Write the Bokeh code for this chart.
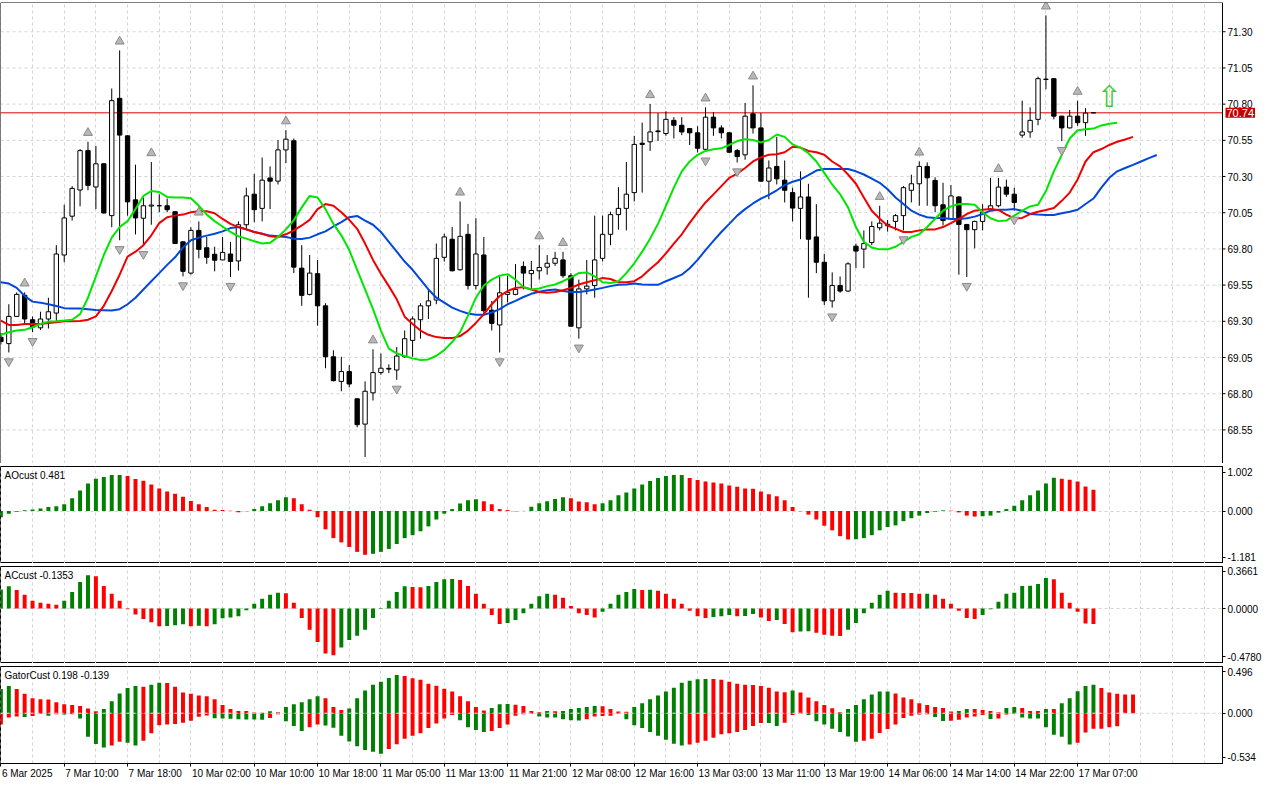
from bokeh.plotting import figure
from bokeh.models import (Range1d, FixedTicker, Span, Label, CustomJSTickFormatter,
                          LinearAxis, BoxAnnotation)
from bokeh.layouts import column
from bokeh.embed import file_html
from bokeh.resources import INLINE
from bokeh.core.properties import value

# ---------------- data (hourly bars, index 0..138) ----------------
opens = [69.19, 69.146, 69.334, 69.48, 69.311, 69.255, 69.316, 69.357, 69.758, 70.026,
         70.207, 70.479, 70.228, 70.388, 70.03, 70.84, 70.581, 70.139, 70.012, 70.096,
         70.098, 70.098, 70.057, 69.849, 69.633, 69.928, 69.808, 69.763, 69.724, 69.765,
         69.717, 69.967, 70.178, 70.08, 70.29, 70.268, 70.484, 70.547, 69.667, 69.486,
         69.629, 69.407, 69.055, 68.885, 68.953, 68.765, 68.59, 68.806, 68.946, 68.97,
         68.964, 69.055, 69.168, 69.311, 69.407, 69.447, 69.742, 69.867, 69.656, 69.901,
         69.547, 69.758, 69.377, 69.275, 69.486, 69.486, 69.679, 69.629, 69.649, 69.674,
         69.701, 69.724, 69.615, 69.255, 69.524, 69.547, 69.735, 69.901, 70.037, 70.08,
         70.189, 70.53, 70.54, 70.615, 70.597, 70.688, 70.654, 70.631, 70.602, 70.488,
         70.71, 70.636, 70.602, 70.479, 70.45, 70.733, 70.636, 70.268, 70.37, 70.275,
         70.189, 70.08, 70.159, 69.883, 69.708, 69.441, 69.547, 69.509, 69.819, 69.799,
         69.844, 69.946, 69.96, 69.99, 70.03, 70.205, 70.25, 70.37, 70.273, 70.105,
         70.007, 70.159, 69.969, 69.933, 69.99, 70.075, 70.098, 70.227, 70.178, 70.586,
         70.608, 70.695, 70.97, 70.976, 70.717, 70.636, 70.717, 70.672, 70.74]
highs = [69.22, 69.418, 69.50, 69.50, 69.334, 69.366, 69.463, 69.826, 70.105, 70.234,
         70.49, 70.54, 70.511, 70.393, 70.908, 71.171, 70.586, 70.382, 70.155, 70.40,
         70.178, 70.148, 70.059, 69.853, 69.95, 69.99, 69.883, 69.815, 69.883, 69.849,
         69.99, 70.223, 70.318, 70.431, 70.37, 70.552, 70.62, 70.563, 69.826, 69.758,
         69.724, 69.425, 69.10, 69.055, 68.998, 68.768, 68.885, 69.107, 69.078, 69.003,
         69.123, 69.237, 69.334, 69.425, 69.52, 69.837, 69.905, 69.951, 70.128, 69.973,
         70.012, 69.883, 69.44, 69.61, 69.615, 69.695, 69.713, 69.717, 69.826, 69.758,
         69.78, 69.78, 69.633, 69.588, 69.724, 70.03, 70.03, 70.057, 70.227, 70.40,
         70.581, 70.672, 70.801, 70.738, 70.751, 70.71, 70.71, 70.636, 70.647, 70.778,
         70.744, 70.654, 70.606, 70.49, 70.808, 70.93, 70.738, 70.411, 70.574, 70.411,
         70.223, 70.336, 70.25, 70.109, 69.765, 69.638, 69.61, 69.708, 69.837, 69.928,
         69.99, 70.098, 70.0, 70.041, 70.234, 70.313, 70.404, 70.398, 70.295, 70.257,
         70.241, 70.163, 69.973, 69.995, 70.109, 70.291, 70.291, 70.279, 70.223, 70.824,
         70.778, 70.99, 71.413, 70.98, 70.72, 70.76, 70.824, 70.772, 70.74]
lows = [69.14, 69.085, 69.33, 69.28, 69.225, 69.24, 69.25, 69.29, 69.708, 69.996,
        70.094, 70.205, 70.075, 70.046, 69.95, 69.86, 70.03, 69.90, 69.826, 69.967,
        70.053, 70.053, 69.835, 69.61, 69.622, 69.735, 69.697, 69.645, 69.722, 69.606,
        69.65, 69.928, 69.985, 69.99, 70.075, 70.245, 70.393, 69.633, 69.407, 69.479,
        69.27, 68.976, 68.885, 68.817, 68.844, 68.568, 68.363, 68.753, 68.93, 68.942,
        68.896, 69.048, 69.055, 69.18, 69.316, 69.418, 69.713, 69.645, 69.651, 69.52,
        69.52, 69.339, 69.237, 69.085, 69.43, 69.48, 69.52, 69.52, 69.588, 69.622,
        69.683, 69.60, 69.264, 69.18, 69.486, 69.463, 69.713, 69.826, 69.933, 69.928,
        70.128, 70.189, 70.477, 70.545, 70.581, 70.563, 70.586, 70.518, 70.466, 70.472,
        70.581, 70.563, 70.461, 70.397, 70.416, 70.597, 70.264, 70.143, 70.245, 70.121,
        69.99, 69.867, 69.463, 69.633, 69.413, 69.395, 69.497, 69.504, 69.667, 69.667,
        69.826, 69.928, 69.92, 69.928, 69.928, 70.121, 70.098, 70.098, 70.053, 69.962,
        70.0, 69.622, 69.606, 69.804, 69.928, 70.064, 70.087, 70.159, 70.064, 70.568,
        70.568, 70.654, 70.903, 70.695, 70.545, 70.632, 70.65, 70.581, 70.74]
closes = [69.16, 69.334, 69.486, 69.316, 69.26, 69.316, 69.366, 69.765, 70.014, 70.218,
          70.479, 70.239, 70.388, 70.048, 70.824, 70.586, 70.125, 70.014, 70.098, 70.103,
          70.098, 70.071, 69.837, 69.645, 69.928, 69.797, 69.742, 69.722, 69.776, 69.713,
          69.967, 70.166, 70.071, 70.275, 70.268, 70.484, 70.558, 69.674, 69.479, 69.633,
          69.407, 69.055, 68.89, 68.953, 68.867, 68.586, 68.817, 68.946, 68.976, 68.975,
          69.06, 69.18, 69.316, 69.407, 69.441, 69.735, 69.883, 69.649, 69.887, 69.547,
          69.765, 69.373, 69.286, 69.497, 69.50, 69.52, 69.633, 69.651, 69.672, 69.701,
          69.735, 69.615, 69.266, 69.524, 69.543, 69.724, 69.901, 70.037, 70.08, 70.178,
          70.522, 70.522, 70.608, 70.61, 70.695, 70.654, 70.608, 70.602, 70.495, 70.71,
          70.636, 70.602, 70.468, 70.438, 70.717, 70.636, 70.268, 70.359, 70.284, 70.205,
          70.082, 70.159, 69.867, 69.708, 69.441, 69.547, 69.509, 69.697, 69.785, 69.837,
          69.955, 69.978, 69.97, 70.03, 70.223, 70.25, 70.37, 70.291, 70.098, 69.996,
          70.166, 69.969, 69.933, 69.99, 70.053, 70.098, 70.227, 70.178, 70.121, 70.608,
          70.688, 70.976, 70.973, 70.717, 70.636, 70.717, 70.672, 70.738, 70.74]

# Alligator lines (as displayed, already shifted forward)
jaw = [69.570, 69.561, 69.531, 69.475, 69.436, 69.429, 69.418, 69.406, 69.391, 69.388,
       69.388, 69.384, 69.379, 69.377, 69.375, 69.384, 69.418, 69.463, 69.520, 69.577,
       69.633, 69.690, 69.742, 69.810, 69.860, 69.878, 69.892, 69.905, 69.921, 69.944,
       69.951, 69.935, 69.917, 69.905, 69.892, 69.887, 69.883, 69.871, 69.869, 69.878,
       69.901, 69.921, 69.955, 69.985, 70.019, 70.028, 69.996, 69.967, 69.917, 69.849,
       69.781, 69.713, 69.656, 69.588, 69.520, 69.463, 69.429, 69.395, 69.372, 69.354,
       69.345, 69.345, 69.361, 69.384, 69.418, 69.441, 69.468, 69.490, 69.504, 69.515,
       69.520, 69.509, 69.502, 69.502, 69.509, 69.520, 69.531, 69.543, 69.552, 69.554,
       69.561, 69.554, 69.552, 69.552, 69.577, 69.599, 69.622, 69.667, 69.724, 69.792,
       69.855, 69.917, 69.973, 70.030, 70.075, 70.114, 70.148, 70.173, 70.205, 70.241,
       70.264, 70.280, 70.309, 70.341, 70.352, 70.352, 70.352, 70.352, 70.336, 70.314,
       70.286, 70.257, 70.212, 70.155, 70.110, 70.064, 70.037, 70.019, 70.014, 70.014,
       70.007, 70.007, 70.012, 70.023, 70.041, 70.064, 70.071, 70.071, 70.075, 70.064,
       70.041, 70.037, 70.035, 70.035, 70.046, 70.057, 70.071, 70.110, 70.148, 70.223,
       70.291, 70.336, 70.359, 70.381, 70.404, 70.427, 70.449]
teeth = [69.305, 69.275, 69.275, 69.282, 69.282, 69.282, 69.289, 69.293, 69.300, 69.300,
         69.302, 69.311, 69.334, 69.407, 69.509, 69.622, 69.747, 69.781, 69.826, 69.894,
         69.978, 70.019, 70.030, 70.037, 70.053, 70.060, 70.060, 70.046, 70.007, 69.973,
         69.951, 69.935, 69.917, 69.905, 69.887, 69.883, 69.901, 69.928, 69.962, 70.001,
         70.075, 70.110, 70.098, 70.053, 70.001, 69.939, 69.837, 69.724, 69.629, 69.543,
         69.452, 69.332, 69.282, 69.236, 69.207, 69.191, 69.184, 69.184, 69.198, 69.236,
         69.289, 69.350, 69.418, 69.475, 69.509, 69.531, 69.536, 69.520, 69.502, 69.497,
         69.502, 69.515, 69.531, 69.554, 69.570, 69.583, 69.599, 69.592, 69.570, 69.570,
         69.577, 69.611, 69.661, 69.708, 69.769, 69.837, 69.901, 69.980, 70.053, 70.121,
         70.177, 70.234, 70.291, 70.320, 70.359, 70.404, 70.432, 70.450, 70.454, 70.468,
         70.506, 70.500, 70.477, 70.468, 70.450, 70.404, 70.370, 70.314, 70.250, 70.155,
         70.064, 70.008, 69.962, 69.940, 69.917, 69.917, 69.928, 69.935, 69.935, 69.951,
         69.978, 70.007, 70.041, 70.064, 70.071, 70.075, 70.069, 70.037, 70.012, 70.014,
         70.041, 70.057, 70.069, 70.082, 70.132, 70.189, 70.280, 70.404, 70.468, 70.490,
         70.518, 70.540, 70.556, 70.574]
lips = [69.207, 69.225, 69.236, 69.241, 69.259, 69.282, 69.298, 69.300, 69.305, 69.311,
        69.350, 69.463, 69.611, 69.758, 69.878, 69.951, 69.992, 70.075, 70.166, 70.200,
        70.193, 70.159, 70.155, 70.155, 70.150, 70.098, 70.037, 69.992, 69.955, 69.917,
        69.887, 69.871, 69.853, 69.837, 69.842, 69.883, 69.935, 69.999, 70.087, 70.166,
        70.155, 70.075, 69.973, 69.894, 69.792, 69.656, 69.520, 69.384, 69.236, 69.112,
        69.078, 69.060, 69.044, 69.033, 69.037, 69.062, 69.101, 69.157, 69.225, 69.339,
        69.463, 69.547, 69.588, 69.615, 69.626, 69.588, 69.536, 69.520, 69.527, 69.543,
        69.554, 69.577, 69.604, 69.633, 69.638, 69.611, 69.570, 69.565, 69.577, 69.633,
        69.701, 69.781, 69.871, 69.973, 70.098, 70.223, 70.336, 70.404, 70.450, 70.477,
        70.488, 70.495, 70.518, 70.545, 70.558, 70.552, 70.536, 70.552, 70.590, 70.574,
        70.522, 70.500, 70.461, 70.404, 70.325, 70.245, 70.177, 70.087, 69.951, 69.849,
        69.810, 69.797, 69.797, 69.815, 69.849, 69.883, 69.901, 69.951, 70.008, 70.064,
        70.094, 70.110, 70.110, 70.105, 70.053, 70.012, 69.992, 69.996, 70.030, 70.064,
        70.094, 70.105, 70.200, 70.336, 70.450, 70.563, 70.620, 70.626, 70.631, 70.653,
        70.665, 70.672]

fractal_up = [3, 11, 15, 19, 25, 36, 47, 58, 68, 71, 82, 89, 95, 111, 116, 126, 132, 136]
fractal_dn = [1, 4, 15, 18, 23, 29, 46, 50, 63, 73, 89, 93, 105, 114, 122, 128, 134]
signal_idx = [140]
signal_price = [70.85]
last_price = 70.74

ao = [-0.14, -0.06, -0.015, 0.015, 0.037, 0.059, 0.088, 0.11, 0.154, 0.287,
      0.463, 0.618, 0.728, 0.765, 0.809, 0.812, 0.787, 0.721, 0.684, 0.596,
      0.507, 0.441, 0.39, 0.324, 0.228, 0.154, 0.088, 0.029, 0.022, 0.007,
      -0.03, -0.007, 0.044, 0.11, 0.176, 0.243, 0.309, 0.287, 0.154, 0.029,
      -0.14, -0.412, -0.61, -0.706, -0.809, -0.919, -0.985, -0.963, -0.919, -0.853,
      -0.743, -0.61, -0.544, -0.456, -0.346, -0.191, -0.059, 0.044, 0.169, 0.243,
      0.265, 0.221, 0.154, 0.044, 0.022, -0.007, 0.003, 0.096, 0.176, 0.221,
      0.272, 0.309, 0.287, 0.213, 0.199, 0.154, 0.176, 0.243, 0.353, 0.419,
      0.507, 0.596, 0.676, 0.743, 0.787, 0.809, 0.812, 0.743, 0.699, 0.662,
      0.64, 0.618, 0.574, 0.544, 0.507, 0.5, 0.441, 0.375, 0.331, 0.243,
      0.088, -0.007, -0.081, -0.191, -0.331, -0.434, -0.566, -0.64, -0.635, -0.61,
      -0.544, -0.434, -0.36, -0.324, -0.228, -0.162, -0.103, -0.044, -0.015, 0.015,
      0.008, -0.03, -0.103, -0.125, -0.118, -0.103, -0.037, 0.044, 0.118, 0.243,
      0.353, 0.463, 0.618, 0.75, 0.728, 0.706, 0.662, 0.551, 0.481]
ac = [0.165, 0.194, 0.162, 0.12, 0.068, 0.051, 0.043, 0.034, 0.068, 0.145,
      0.231, 0.291, 0.282, 0.197, 0.128, 0.068, -0.006, -0.051, -0.091, -0.12,
      -0.154, -0.151, -0.145, -0.137, -0.154, -0.150, -0.154, -0.137, -0.085, -0.077,
      -0.066, -0.014, 0.043, 0.085, 0.12, 0.137, 0.134, 0.051, -0.083, -0.185,
      -0.29, -0.39, -0.407, -0.339, -0.274, -0.236, -0.185, -0.083, 0.006, 0.068,
      0.145, 0.194, 0.188, 0.186, 0.197, 0.231, 0.256, 0.258, 0.248, 0.197,
      0.128, 0.043, -0.057, -0.134, -0.125, -0.1, -0.04, 0.043, 0.108, 0.128,
      0.12, 0.094, 0.023, -0.04, -0.057, -0.077, -0.028, 0.043, 0.12, 0.145,
      0.171, 0.162, 0.163, 0.154, 0.128, 0.085, 0.043, -0.02, -0.066, -0.083,
      -0.074, -0.066, -0.057, -0.066, -0.064, -0.048, -0.077, -0.108, -0.1, -0.134,
      -0.205, -0.2, -0.198, -0.21, -0.228, -0.237, -0.238, -0.185, -0.125, -0.04,
      0.051, 0.12, 0.154, 0.137, 0.136, 0.135, 0.128, 0.129, 0.12, 0.085,
      0.043, -0.02, -0.083, -0.091, -0.057, -0.006, 0.06, 0.128, 0.137, 0.197,
      0.198, 0.214, 0.265, 0.256, 0.137, 0.051, -0.028, -0.13, -0.1353]
gator_up = [0.258, 0.289, 0.258, 0.206, 0.158, 0.148, 0.146, 0.117, 0.096, 0.086,
            0.076, 0.05, 0.02, 0.045, 0.127, 0.21, 0.268, 0.289, 0.282, 0.302,
            0.323, 0.322, 0.282, 0.22, 0.206, 0.189, 0.179, 0.148, 0.086, 0.045,
            0.024, 0.023, 0.008, 0.004, 0.02, 0.01, 0.065, 0.096, 0.117, 0.148,
            0.179, 0.158, 0.065, 0.034, 0.05, 0.158, 0.24, 0.302, 0.333, 0.375,
            0.405, 0.395, 0.37, 0.354, 0.313, 0.292, 0.261, 0.23, 0.179, 0.127,
            0.065, 0.03, 0.055, 0.096, 0.098, 0.09, 0.076, 0.024, 0.01, 0.024,
            0.02, 0.024, 0.045, 0.055, 0.065, 0.076, 0.074, 0.045, 0.018, 0.016,
            0.065, 0.107, 0.148, 0.189, 0.23, 0.271, 0.323, 0.344, 0.361, 0.364,
            0.362, 0.354, 0.333, 0.313, 0.302, 0.300, 0.289, 0.271, 0.23, 0.223,
            0.24, 0.22, 0.168, 0.127, 0.086, 0.052, 0.01, 0.045, 0.086, 0.148,
            0.2, 0.23, 0.231, 0.21, 0.168, 0.148, 0.107, 0.086, 0.065, 0.055,
            0.017, 0.024, 0.045, 0.044, 0.034, 0.024, 0.01, 0.055, 0.065, 0.055,
            0.024, 0.023, 0.045, 0.044, 0.107, 0.158, 0.234, 0.289, 0.302, 0.268,
            0.22, 0.206, 0.2, 0.198]
gator_dn = [-0.12, -0.045, -0.035, -0.04, -0.03, -0.005, -0.027, -0.01, -0.015, -0.012,
            -0.055, -0.25, -0.326, -0.364, -0.344, -0.302, -0.313, -0.344, -0.292, -0.213,
            -0.127, -0.12, -0.115, -0.1, -0.08, -0.038, -0.023, -0.054, -0.055, -0.058,
            -0.064, -0.066, -0.068, -0.07, -0.05, -0.01, -0.086, -0.137, -0.189, -0.15,
            -0.12, -0.13, -0.155, -0.24, -0.30, -0.35, -0.39, -0.41, -0.43, -0.38,
            -0.33, -0.27, -0.24, -0.213, -0.158, -0.11, -0.055, -0.02, -0.076, -0.148,
            -0.179, -0.2, -0.189, -0.158, -0.12, -0.027, -0.01, -0.005, -0.034, -0.045,
            -0.046, -0.065, -0.076, -0.077, -0.065, -0.034, -0.03, -0.027, -0.007, -0.065,
            -0.127, -0.158, -0.2, -0.24, -0.282, -0.323, -0.344, -0.333, -0.313, -0.292,
            -0.261, -0.223, -0.213, -0.2, -0.179, -0.137, -0.103, -0.105, -0.137, -0.10,
            -0.02, -0.005, -0.02, -0.086, -0.12, -0.165, -0.2, -0.247, -0.302, -0.292,
            -0.271, -0.21, -0.168, -0.12, -0.052, -0.027, -0.015, -0.01, -0.041, -0.082,
            -0.081, -0.069, -0.045, -0.034, -0.02, -0.062, -0.055, -0.014, -0.007, -0.045,
            -0.055, -0.056, -0.148, -0.23, -0.251, -0.333, -0.313, -0.206, -0.165, -0.164,
            -0.148, -0.139]

price_ticks = [68.55, 68.80, 69.05, 69.30, 69.55, 69.80, 70.05, 70.30, 70.55, 70.80, 71.05, 71.30]
time_tick_idx = [0, 8, 16, 24, 32, 40, 48, 56, 64, 72, 80, 88, 96, 104, 112, 120, 128, 136]
time_tick_lbl = ["6 Mar 2025", "7 Mar 10:00", "7 Mar 18:00", "10 Mar 02:00", "10 Mar 10:00",
                 "10 Mar 18:00", "11 Mar 05:00", "11 Mar 13:00", "11 Mar 21:00", "12 Mar 08:00",
                 "12 Mar 16:00", "13 Mar 03:00", "13 Mar 11:00", "13 Mar 19:00", "14 Mar 06:00",
                 "14 Mar 14:00", "14 Mar 22:00", "17 Mar 07:00"]

# ---------------- styling ----------------
FONT = "Liberation Sans"
FS = "10px"
FW = 1222          # chart frame width (px)
AXW = 42           # price-scale strip of the main panel (px)
X0, X1 = -0.05, 154.3
PPB = FW / (X1 - X0)          # pixels per bar
XE = X1 + AXW / PPB           # main panel extends over its price scale
Y0, Y1 = 68.318, 71.502
GREEN = "#008000"
RED = "#ff0000"
GRID = "#d4d4d4"

LOOKUP_JS = """
let best = 0, bd = 1e18;
for (let k = 0; k < tv.length; k++) {
  const d = Math.abs(tv[k] - tick);
  if (d < bd) { bd = d; best = k; }
}
return labels[best];
"""


def style_common(p):
    p.background_fill_color = "white"
    p.border_fill_color = "white"
    p.xgrid.ticker = FixedTicker(ticks=list(range(0, 156, 4)))
    for g in (p.xgrid, p.ygrid):
        g.grid_line_color = GRID
        g.grid_line_dash = "3 3"
        g.grid_line_width = 1


def make_sub(h, lo, hi):
    p = figure(frame_width=FW, frame_height=h, x_range=Range1d(X0, X1), y_range=Range1d(lo, hi),
               y_axis_location="right", output_backend="svg", toolbar_location=None,
               tools="", min_border_left=0, min_border_right=0, min_border_top=3,
               min_border_bottom=0)
    style_common(p)
    p.outline_line_color = "black"
    p.outline_line_width = 1
    ya = p.yaxis[0]
    ya.axis_line_color = "black"
    ya.major_tick_out = 3
    ya.major_tick_in = 0
    ya.minor_tick_line_color = None
    ya.major_label_standoff = 2
    ya.major_label_text_font = FONT
    ya.major_label_text_font_size = FS
    ya.major_label_text_color = "black"
    return p


def hist_colors(vals, first, use_abs=False):
    out = [first]
    for k in range(1, len(vals)):
        a, b = (abs(vals[k]), abs(vals[k - 1])) if use_abs else (vals[k], vals[k - 1])
        out.append(GREEN if a > b else RED)
    return out


def set_sub_axis(p, tv, labels):
    p.yaxis[0].ticker = FixedTicker(ticks=tv)
    p.yaxis[0].formatter = CustomJSTickFormatter(args=dict(tv=tv, labels=labels), code=LOOKUP_JS)
    p.ygrid.ticker = FixedTicker(ticks=[0])


def text_width(s):
    w = {" ": 2.78, ":": 2.78, "M": 8.33, "a": 5.56, "r": 3.33}
    return sum(w.get(ch, 5.56) for ch in s)


# ---------------- main price panel (its frame also covers the price scale strip) ----------------
n = len(opens)
idx = list(range(n))
main = figure(frame_width=FW + AXW, frame_height=461, x_range=Range1d(X0, XE),
              y_range=Range1d(Y0, Y1), output_backend="svg", toolbar_location=None, tools="",
              min_border_left=0, min_border_right=0, min_border_top=2, min_border_bottom=0)
style_common(main)
main.xaxis.visible = False
main.yaxis.visible = False
main.ygrid.visible = False
main.outline_line_color = None

# horizontal grid only over the chart area
main.segment(x0=[X0] * len(price_ticks), x1=[X1] * len(price_ticks), y0=price_ticks,
             y1=price_ticks, line_color=GRID, line_dash="3 3", line_width=1)
# current price line
main.segment(x0=[X0], x1=[X1], y0=[last_price], y1=[last_price], line_color="#e00000", line_width=1)

main.segment(x0=idx, y0=lows, x1=idx, y1=highs, line_color="black", line_width=1)
body_top = [max(o, c) for o, c in zip(opens, closes)]
body_bot = [min(o, c) for o, c in zip(opens, closes)]
body_fill = ["white" if c >= o else "black" for o, c in zip(opens, closes)]
main.vbar(x=idx, width=0.55, top=body_top, bottom=body_bot, fill_color=body_fill,
          line_color="black", line_width=1)

main.line(list(range(len(jaw))), jaw, line_color="#0047dc", line_width=2)
main.line(list(range(len(teeth))), teeth, line_color="#f00000", line_width=2)
main.line(list(range(len(lips))), lips, line_color="#00e600", line_width=2)

main.scatter(fractal_up, [highs[i] + 0.062 for i in fractal_up], marker="triangle", size=9,
             fill_color="#b8b8b8", line_color="#8a8a8a", line_width=1)
main.scatter(fractal_dn, [lows[i] - 0.062 for i in fractal_dn], marker="inverted_triangle", size=9,
             fill_color="#b8b8b8", line_color="#8a8a8a", line_width=1)

main.text(x=signal_idx, y=signal_price, text=["\u21e7"], text_color="#3ccc3c",
          text_font=value("DejaVu Sans"), text_font_size="30px", text_align="center",
          text_baseline="middle")

# chart border (only round the chart area, not the price strip)
main.add_layout(BoxAnnotation(left=X0, right=X1, bottom=Y0, top=Y1, fill_color=None,
                              line_color="black", line_alpha=1.0, line_width=1))

# price scale: tick marks and labels
nt = len(price_ticks)
main.segment(x0=[X1] * nt, x1=[X1 + 3 / PPB] * nt, y0=price_ticks, y1=price_ticks,
             line_color="black", line_width=1)
main.text(x=[X1 + 5 / PPB] * nt, y=price_ticks, text=["%.2f" % v for v in price_ticks],
          text_font=value(FONT), text_font_size=FS, text_color="black",
          text_align="left", text_baseline="middle")

lbl_kw = dict(x=X1 + 3 / PPB, y=last_price, text="%.2f" % last_price, text_color="white",
              background_fill_color="#c80000", text_font=FONT, text_font_size="11px",
              text_align="left", text_baseline="middle")
try:
    plbl = Label(padding=1, **lbl_kw)
except Exception:
    plbl = Label(**lbl_kw)
main.add_layout(plbl)

# ---------------- AO panel ----------------
aop = make_sub(97, -1.181, 1.002)
aop.xaxis.visible = False
set_sub_axis(aop, [0.874, 0.0, -1.035], ["1.002", "0.000", "-1.181"])
aop.vbar(x=list(range(len(ao))), width=0.5, top=ao, bottom=0,
         fill_color=hist_colors(ao, GREEN), line_color=None)
aop.add_layout(Label(x=0.45, y=0.79, text="AOcust 0.481", text_font=FONT, text_font_size=FS,
                     text_baseline="middle", text_align="left", text_color="black"))

# ---------------- AC panel ----------------
acp = make_sub(97, -0.4780, 0.3661)
acp.xaxis.visible = False
set_sub_axis(acp, [0.3226, 0.0, -0.4214], ["0.3661", "0.0000", "-0.4780"])
acp.vbar(x=list(range(len(ac))), width=0.5, top=ac, bottom=0,
         fill_color=hist_colors(ac, GREEN), line_color=None)
acp.add_layout(Label(x=0.45, y=0.29, text="ACcust -0.1353", text_font=FONT, text_font_size=FS,
                     text_baseline="middle", text_align="left", text_color="black"))

# ---------------- Gator panel ----------------
gp = make_sub(97, -0.534, 0.496)
set_sub_axis(gp, [0.439, 0.0, -0.465], ["0.496", "0.000", "-0.534"])
gp.vbar(x=list(range(len(gator_up))), width=0.5, top=gator_up, bottom=0,
        fill_color=hist_colors(gator_up, GREEN), line_color=None)
gp.vbar(x=list(range(len(gator_dn))), width=0.5, top=0, bottom=gator_dn,
        fill_color=hist_colors(gator_dn, RED, use_abs=True), line_color=None)
gp.add_layout(Span(location=0, dimension="width", line_color="#e4e4e4", line_dash="3 3",
                   line_width=1, level="overlay"))
gp.add_layout(Label(x=0.45, y=0.40, text="GatorCust 0.198 -0.139", text_font=FONT,
                    text_font_size=FS, text_baseline="middle", text_align="left",
                    text_color="black"))

# bottom time axis: tick marks at the bars, labels starting at each tick (left aligned)
xa = gp.xaxis[0]
xa.ticker = FixedTicker(ticks=time_tick_idx)
xa.formatter = CustomJSTickFormatter(code="return '';")
xa.major_label_text_font_size = "1px"
xa.major_label_standoff = 0
xa.major_tick_out = 3
xa.major_tick_in = 0
xa.minor_tick_line_color = None
xa.axis_line_color = "black"

label_pos = [t + (text_width(s) / 2 + 1) / PPB for t, s in zip(time_tick_idx, time_tick_lbl)]
xa2 = LinearAxis(ticker=FixedTicker(ticks=label_pos),
                 formatter=CustomJSTickFormatter(args=dict(tv=label_pos, labels=time_tick_lbl),
                                                 code=LOOKUP_JS))
xa2.axis_line_color = None
xa2.major_tick_line_color = None
xa2.minor_tick_line_color = None
xa2.major_tick_out = 0
xa2.major_tick_in = 0
xa2.major_label_standoff = 1
xa2.major_label_text_font = FONT
xa2.major_label_text_font_size = FS
xa2.major_label_text_color = "black"
gp.add_layout(xa2, "below")

layout = column(main, aop, acp, gp, spacing=0)
open("out.html", "w").write(file_html(layout, INLINE))
